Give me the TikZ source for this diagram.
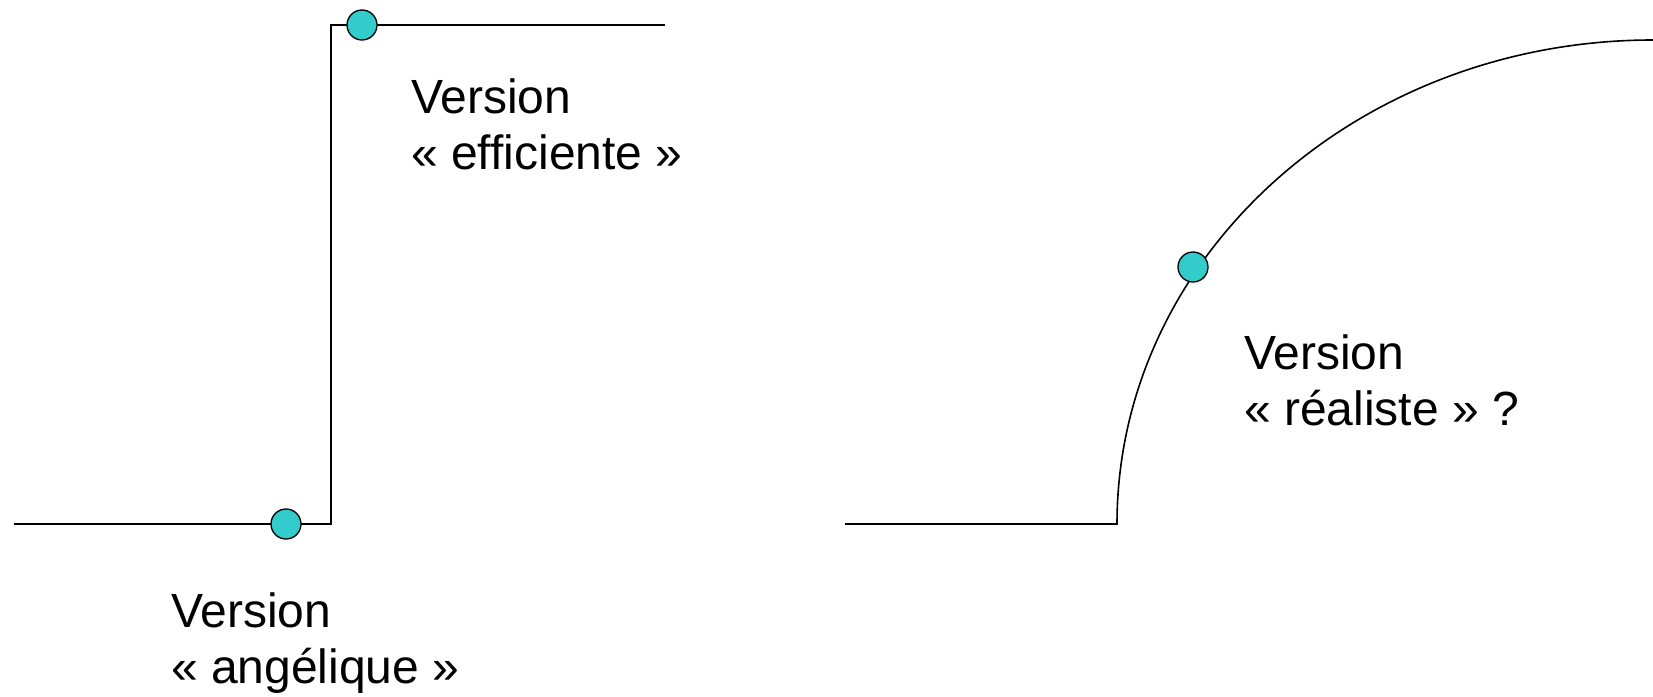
\documentclass[tikz,border=0pt]{standalone}
\usepackage{fontspec}
\setmainfont{Liberation Sans}
\usetikzlibrary{positioning}
\definecolor{pastille}{RGB}{51,204,204}
\tikzset{
  point/.style={circle, draw=black, fill=pastille, line width=1.3pt, minimum size=30pt, inner sep=0pt},
  legende/.style={anchor=base west, align=left, inner sep=0pt, font=\fontsize{48}{56}\selectfont},
  courbe/.style={line width=1.6pt}
}

\begin{document}
\begin{tikzpicture}[x=1pt,y=-1pt]
\useasboundingbox (0,0) rectangle (1653,696);
% la marche
\coordinate (g0) at (14,524);
\coordinate (g1) at (331,524);
\coordinate (g2) at (331,25);
\coordinate (g3) at (665,25);
\draw[courbe] (g0) -- (g1) -- (g2) -- (g3);
\node[point] (bas) at (286,524) {};
\node[point] (haut) at (362,25) {};
\node[legende] (angelique) at (171,683) {Version\\« angélique »};
\node[legende] (efficiente) at (411,169) {Version\\« efficiente »};
% la courbe
\coordinate (d0) at (845,524);
\coordinate (d1) at (1117,524);
\draw[courbe] (d0) -- (d1) arc[start angle=180, end angle=90, x radius=536pt, y radius=484pt];
\node[point] (milieu) at (1193,267) {};
\node[legende] (realiste) at (1244,425) {Version\\« réaliste » ?};
\end{tikzpicture}
\end{document}
